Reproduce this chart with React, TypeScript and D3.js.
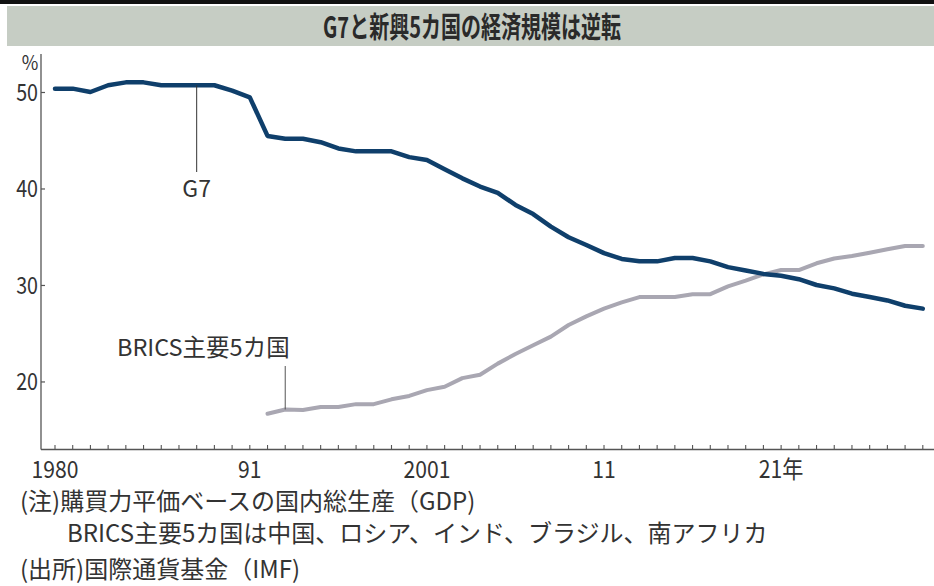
import React from "react";
import * as d3 from "d3";

const years: number[] = d3.range(1980, 2030);
const g7Values: number[] = [
  50.4, 50.4, 50.05, 50.75, 51.05, 51.05, 50.75, 50.75, 50.75, 50.75,
  50.2, 49.5, 45.5, 45.2, 45.2, 44.85, 44.2, 43.9, 43.9, 43.9,
  43.3, 43.0, 42.05, 41.1, 40.25, 39.6, 38.35, 37.4, 36.1, 35.0,
  34.2, 33.35, 32.75, 32.5, 32.5, 32.85, 32.85, 32.5, 31.9, 31.55,
  31.2, 31.0, 30.65, 30.05, 29.7, 29.15, 28.8, 28.45, 27.9, 27.6,
];
const bricsYears: number[] = d3.range(1992, 2030);
const bricsValues: number[] = [
  16.7, 17.15, 17.1, 17.4, 17.4, 17.7, 17.7, 18.2, 18.55, 19.15,
  19.5, 20.4, 20.75, 21.9, 22.9, 23.8, 24.7, 25.9, 26.8, 27.6,
  28.25, 28.8, 28.8, 28.8, 29.1, 29.1, 29.9, 30.5, 31.15, 31.6,
  31.6, 32.3, 32.8, 33.05, 33.4, 33.75, 34.1, 34.1,
];
const yTicks: number[] = [20, 30, 40, 50];
const xTickLabels: { year: number; label: string }[] = [
  { year: 1980, label: "1980" },
  { year: 1991, label: "91" },
  { year: 2001, label: "2001" },
  { year: 2011, label: "11" },
  { year: 2021, label: "21年" },
];
const title = "G7と新興5カ国の経済規模は逆転";
const notes: string[] = [
  "(注)購買力平価ベースの国内総生産（GDP)",
  "BRICS主要5カ国は中国、ロシア、インド、ブラジル、南アフリカ",
  "(出所)国際通貨基金（IMF)",
];

const FONT = "'Noto Sans CJK JP', 'Noto Sans', sans-serif";
const TEXT = "#333";

export default function App() {
  const x = d3.scaleLinear().domain([1980, 2029]).range([55, 922.8]);
  const y = d3.scaleLinear().domain([13, 54]).range([449.5, 53.9]);
  const line = d3
    .line<[number, number]>()
    .x((d) => x(d[0]))
    .y((d) => y(d[1]));
  const g7 = years.map((yr, i) => [yr, g7Values[i]] as [number, number]);
  const brics = bricsYears.map((yr, i) => [yr, bricsValues[i]] as [number, number]);
  const axisY = y(13);
  const axisX = 41;

  const g7Label = 1988;
  const bricsLabel = 1993;
  const g7At = g7Values[years.indexOf(g7Label)];
  const bricsAt = bricsValues[bricsYears.indexOf(bricsLabel)];

  return (
    <svg
      width={934}
      height={586}
      style={{ position: "absolute", left: 0, top: 0, background: "#fff" }}
      fontFamily={FONT}
    >
      <rect x={0} y={0} width={934} height={586} fill="#fff" />
      <rect x={0} y={0} width={934} height={4} fill="#111" />
      <rect x={7} y={6} width={927} height={40} fill="#c6cdc4" />
      <text
        transform="translate(472,37.5) scale(0.69,1)"
        textAnchor="middle"
        fontSize={29}
        fontWeight={700}
        fill="#2a2a2a"
      >
        {title}
      </text>

      {/* y axis */}
      <line x1={axisX} x2={axisX} y1={54} y2={axisY} stroke="#555" strokeWidth={1.3} />
      {yTicks.map((t) => (
        <g key={t}>
          <line x1={axisX} x2={axisX + 4} y1={y(t)} y2={y(t)} stroke="#555" strokeWidth={1.2} />
          <text
            transform={`translate(38,${y(t) + 8.5}) scale(0.82,1)`}
            textAnchor="end"
            fontSize={24}
            fill={TEXT}
          >
            {t}
          </text>
        </g>
      ))}
      <text transform="translate(30,70) scale(0.9,1)" textAnchor="middle" fontSize={20} fill={TEXT}>
        %
      </text>

      {/* x axis */}
      <line x1={axisX} x2={934} y1={axisY} y2={axisY} stroke="#555" strokeWidth={1.3} />
      {years.map((yr) => (
        <line key={yr} x1={x(yr)} x2={x(yr)} y1={axisY} y2={axisY - 4.5} stroke="#555" strokeWidth={1.1} />
      ))}
      {xTickLabels.map((t) => (
        <text
          key={t.year}
          transform={`translate(${x(t.year)},${axisY + 28}) scale(0.88,1)`}
          textAnchor="middle"
          fontSize={24}
          fill={TEXT}
        >
          {t.label}
        </text>
      ))}

      {/* series */}
      <path
        d={line(brics) ?? ""}
        fill="none"
        stroke="#a9a7b2"
        strokeWidth={4}
        strokeLinejoin="round"
        strokeLinecap="round"
      />
      <path
        d={line(g7) ?? ""}
        fill="none"
        stroke="#0f3f6b"
        strokeWidth={4.5}
        strokeLinejoin="round"
        strokeLinecap="round"
      />

      {/* annotations */}
      <line x1={x(g7Label)} x2={x(g7Label)} y1={y(g7At)} y2={172} stroke="#333" strokeWidth={1} />
      <text x={x(g7Label)} y={197} textAnchor="middle" fontSize={23} fill={TEXT}>
        G7
      </text>
      <line x1={x(bricsLabel)} x2={x(bricsLabel)} y1={366} y2={y(bricsAt)} stroke="#555" strokeWidth={1} />
      <text x={117} y={356} fontSize={23.5} fill={TEXT}>
        BRICS主要5カ国
      </text>

      {/* notes */}
      <text x={20} y={510} fontSize={24} fill={TEXT}>
        {notes[0]}
      </text>
      <text x={67} y={542} fontSize={24} fill={TEXT}>
        {notes[1]}
      </text>
      <text x={20} y={578} fontSize={24} fill={TEXT}>
        {notes[2]}
      </text>
    </svg>
  );
}
